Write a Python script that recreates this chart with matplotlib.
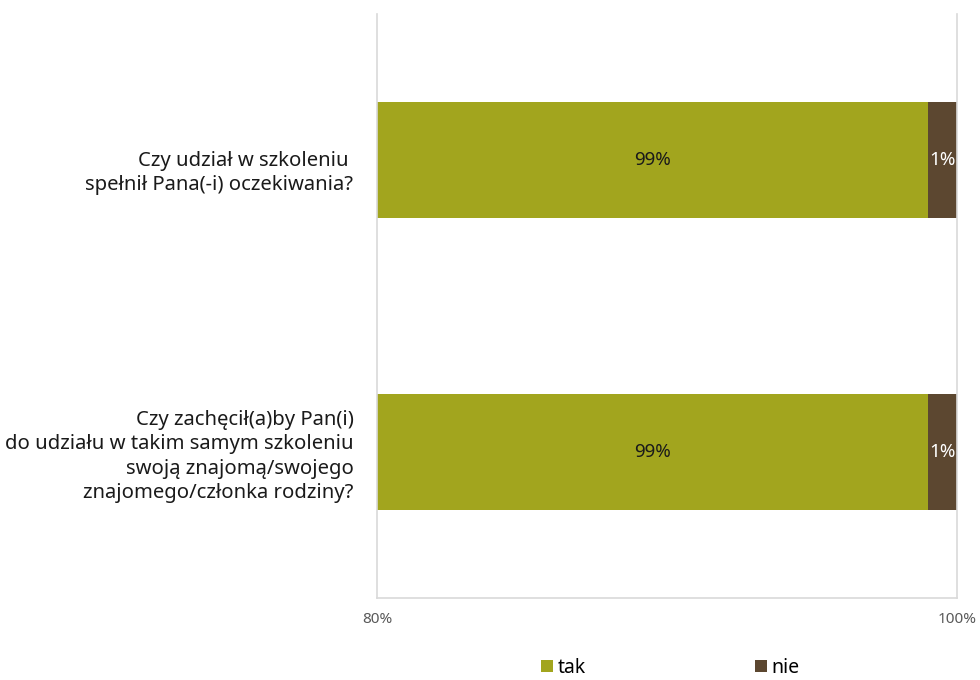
import matplotlib.pyplot as plt
import matplotlib.transforms as mtransforms
import numpy as np

plt.rcParams['font.family'] = ['Noto Sans', 'DejaVu Sans']

questions = [
    "Czy udział w szkoleniu \nspełnił Pana(-i) oczekiwania?",
    "Czy zachęcił(a)by Pan(i)\ndo udziału w takim samym szkoleniu\nswoją znajomą/swojego\nznajomego/członka rodziny?",
]
tak = [99, 99]
nie = [1, 1]
series = ["tak", "nie"]
colors = ["#A2A51E", "#5C4730"]
text_colors = ["#1a1a1a", "white"]
xticks = [80, 100]

fig = plt.figure(figsize=(9.8, 6.8), dpi=100)
ax = fig.add_axes([0.3847, 0.1206, 0.5918, 0.8588])

y = np.arange(len(questions))
lefts = np.zeros(len(questions))
xmin, xmax = 80, 100
for vals, name, col, tcol in zip([tak, nie], series, colors, text_colors):
    vals = np.array(vals)
    ax.barh(y, vals, left=lefts, height=0.4, color=col, label=name)
    for yi, l, v in zip(y, lefts, vals):
        lo = max(l, xmin)
        hi = min(l + v, xmax)
        ax.text((lo + hi) / 2, yi, f"{v}%", ha="center", va="center",
                color=tcol, fontsize=13.5)
    lefts = lefts + vals

ax.set_xlim(xmin, xmax)
ax.set_ylim(len(questions) - 0.5, -0.5)
ax.set_xticks(xticks)
ax.set_xticklabels([f"{t}%" for t in xticks], color="#595959", fontsize=11)
ax.tick_params(axis="x", length=0, pad=10)
ax.set_yticks(y)
ax.set_yticklabels(questions, fontsize=14.6, color="#1a1a1a", linespacing=1.3)
ax.tick_params(axis="y", length=0, pad=17)

# first label sits a bit below its bar centre in the original
lbl = ax.get_yticklabels()[0]
lbl.set_transform(lbl.get_transform() +
                  mtransforms.ScaledTranslation(0, -8 / 100, fig.dpi_scale_trans))

for s in ["left", "right", "bottom"]:
    ax.spines[s].set_color("#d9d9d9")
    ax.spines[s].set_linewidth(1.2)
ax.spines["top"].set_visible(False)

fig.legend(loc="center", bbox_to_anchor=(0.684, 0.018), ncol=2, frameon=False,
           fontsize=14, handlelength=0.6, handleheight=0.6,
           handletextpad=0.25, columnspacing=8.7)

fig.savefig("out.png", dpi=100)
